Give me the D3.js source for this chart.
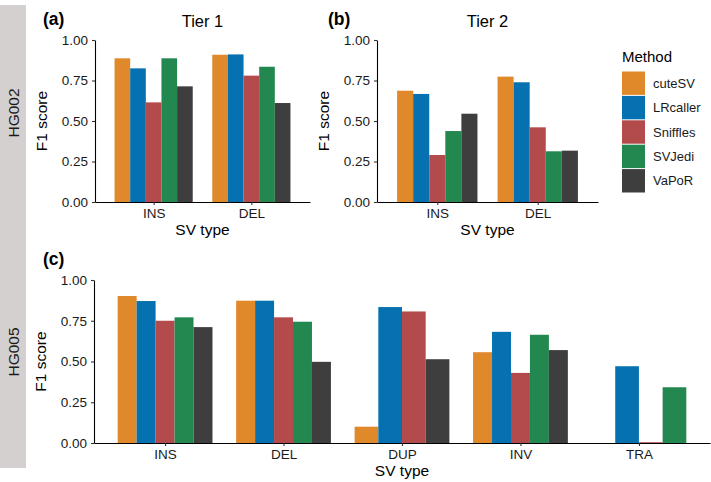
<!DOCTYPE html>
<html>
<head>
<meta charset="utf-8">
<script src="https://cdn.jsdelivr.net/npm/d3@7"></script>
<style>
  body { margin: 0; background: #fff; }
  svg { font-family: "Liberation Sans", Arial, sans-serif; }
</style>
</head>
<body>
<svg id="chart" width="711" height="482"></svg>
<script>
// Methods and their fill colours
var methods = ["cuteSV", "LRcaller", "Sniffles", "SVJedi", "VaPoR"];
var methodColors = ["#e0892b", "#0571b0", "#b34a4b", "#23884f", "#3e3e3e"];

// SV type categories per panel
var tierTypes = ["INS", "DEL"];
var hg005Types = ["INS", "DEL", "DUP", "INV", "TRA"];

// F1 scores, one entry per method (null = no bar)
var tier1Ins = [0.887, 0.825, 0.615, 0.887, 0.714];
var tier1Del = [0.909, 0.911, 0.780, 0.835, 0.611];
var tier2Ins = [0.687, 0.667, 0.290, 0.438, 0.545];
var tier2Del = [0.774, 0.739, 0.461, 0.313, 0.317];
var hg005Ins = [0.902, 0.871, 0.750, 0.771, 0.711];
var hg005Del = [0.873, 0.873, 0.771, 0.744, 0.498];
var hg005Dup = [0.100, 0.834, 0.807, null, 0.514];
var hg005Inv = [0.557, 0.682, 0.430, 0.664, 0.570];
var hg005Tra = [0.000, 0.471, 0.005, 0.342, null];

var yTicks = [0, 0.25, 0.5, 0.75, 1];

var svg = d3.select("svg#chart");

//Grey row strips on the left
var strips = [
  { label: "HG002", y0: 5, y1: 221, cy: 113 },
  { label: "HG005", y0: 221, y1: 468, cy: 352 }
];
strips.forEach(function (s) {
  svg.append("rect")
      .attr("x", 0).attr("y", s.y0)
      .attr("width", 26).attr("height", s.y1 - s.y0)
      .attr("fill", "#d4d0cf");
  svg.append("text")
      .attr("transform", "translate(18.5," + s.cy + ") rotate(-90)")
      .attr("text-anchor", "middle")
      .style("font-size", "15.5px").attr("fill", "#1a1a1a")
      .text(s.label);
});

//Draws one dodged bar panel
function drawPanel(opt) {
  var g = svg.append("g");

  var x = d3.scalePoint()
    .domain(opt.types)
    .range([opt.x0, opt.x1])
    .padding(0.6);
  var y = d3.scaleLinear()
    .domain([0, 1])
    .range([opt.y1, opt.y0]);
  var groupWidth = x.step() * 0.8;

  //Bars: width split among the methods that have a value
  opt.types.forEach(function (t, ti) {
    var vals = opt.values[ti];
    var present = [];
    vals.forEach(function (v, mi) { if (v != null) present.push(mi); });
    var bw = groupWidth / present.length;
    var start = x(t) - groupWidth / 2;
    present.forEach(function (mi, k) {
      g.append("rect")
          .attr("x", start + k * bw)
          .attr("y", y(vals[mi]))
          .attr("width", bw)
          .attr("height", y(0) - y(vals[mi]))
          .attr("fill", methodColors[mi]);
    });
  });

  //Axes
  var yAxis = g.append("g")
      .attr("transform", "translate(" + opt.x0 + ",0)")
      .call(d3.axisLeft(y).tickValues(yTicks).tickFormat(d3.format(".2f"))
        .tickSize(3).tickSizeOuter(0).tickPadding(4));
  var xAxis = g.append("g")
      .attr("transform", "translate(0," + opt.y1 + ")")
      .call(d3.axisBottom(x).tickSize(3).tickSizeOuter(0).tickPadding(3));

  [yAxis, xAxis].forEach(function (a) {
    a.select(".domain").attr("stroke", "#000").attr("stroke-width", 1.1);
    a.selectAll(".tick line").attr("stroke", "#333").attr("stroke-width", 1.1);
    a.selectAll(".tick text")
        .style("font-size", "13.5px")
        .style("font-family", "'Liberation Sans', Arial, sans-serif")
        .attr("fill", "#1a1a1a");
  });

  //Axis titles
  g.append("text")
      .attr("transform", "translate(" + (opt.x0 - 48) + "," + ((opt.y0 + opt.y1) / 2) + ") rotate(-90)")
      .attr("text-anchor", "middle")
      .style("font-size", "15.5px").attr("fill", "#000")
      .text("F1 score");
  g.append("text")
      .attr("x", (opt.x0 + opt.x1) / 2)
      .attr("y", opt.y1 + 33)
      .attr("text-anchor", "middle")
      .style("font-size", "15.5px").attr("fill", "#000")
      .text("SV type");

  //Panel tag and title
  g.append("text")
      .attr("x", opt.tagX).attr("y", opt.y0 - 15)
      .style("font-size", "17.5px").style("font-weight", "bold")
      .text(opt.tag);
  if (opt.title) {
    g.append("text")
        .attr("x", (opt.x0 + opt.x1) / 2).attr("y", opt.y0 - 13)
        .attr("text-anchor", "middle")
        .style("font-size", "16.5px").attr("fill", "#000")
        .text(opt.title);
  }
}

drawPanel({ tag: "(a)", title: "Tier 1", tagX: 43, types: tierTypes,
  values: [tier1Ins, tier1Del], x0: 95, x1: 310, y0: 40, y1: 202 });
drawPanel({ tag: "(b)", title: "Tier 2", tagX: 328, types: tierTypes,
  values: [tier2Ins, tier2Del], x0: 377, x1: 598, y0: 40, y1: 202 });
drawPanel({ tag: "(c)", title: null, tagX: 43, types: hg005Types,
  values: [hg005Ins, hg005Del, hg005Dup, hg005Inv, hg005Tra],
  x0: 94, x1: 710, y0: 280, y1: 443 });

//Legend
var legend = svg.append("g").attr("transform", "translate(622,0)");
legend.append("text")
    .attr("x", 0).attr("y", 62)
    .style("font-size", "15px").attr("fill", "#000")
    .text("Method");
var item = legend.selectAll(".item")
  .data(methods)
  .enter().append("g")
    .attr("class", "item")
    .attr("transform", function (d, i) { return "translate(0," + (71.5 + i * 24.4) + ")"; });
item.append("rect")
    .attr("width", 23).attr("height", 23.4)
    .attr("fill", function (d, i) { return methodColors[i]; });
item.append("text")
    .attr("x", 31).attr("y", 11.7)
    .attr("dy", "0.35em")
    .style("font-size", "13px").attr("fill", "#1a1a1a")
    .text(function (d) { return d; });
</script>
</body>
</html>
